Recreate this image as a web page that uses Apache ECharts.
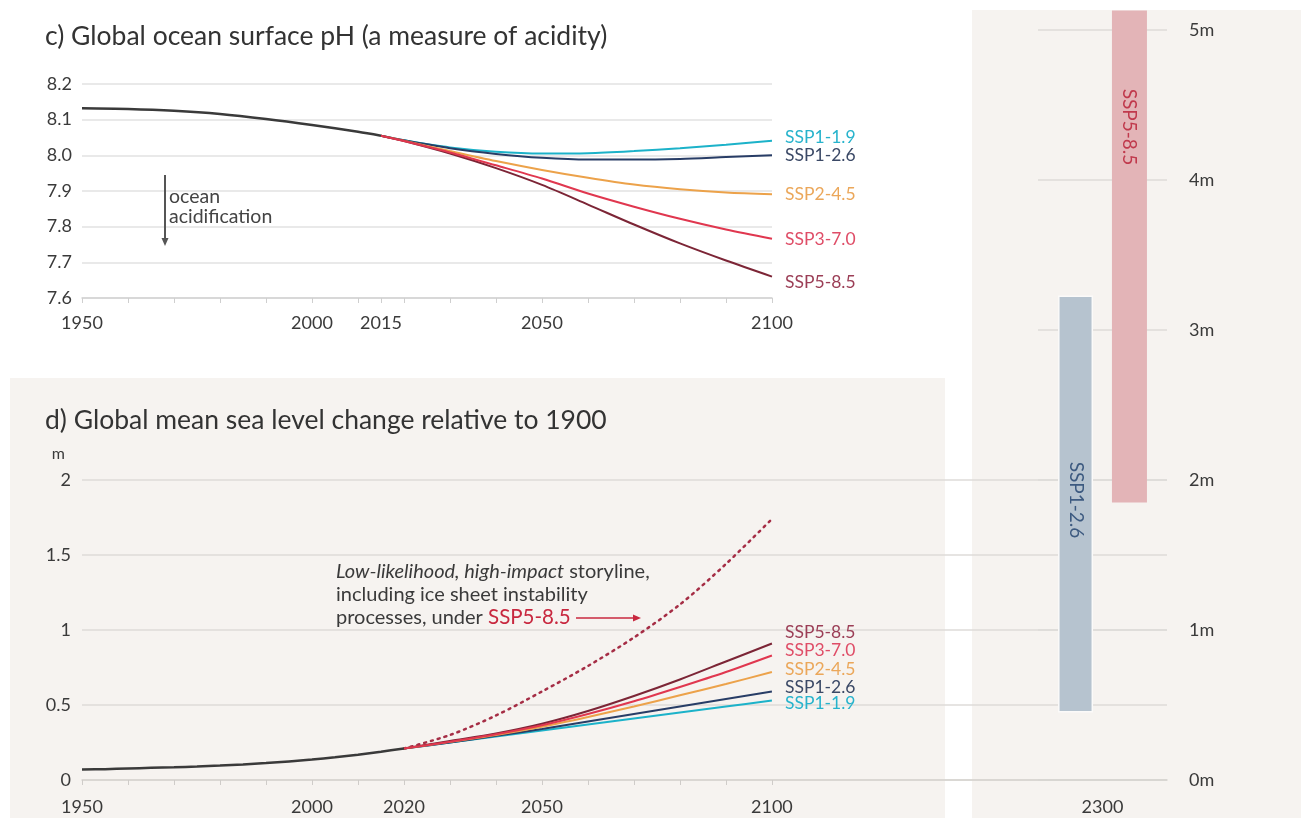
<!DOCTYPE html>
<html>
<head>
<meta charset="utf-8">
<script src="https://cdn.jsdelivr.net/npm/echarts@6/dist/echarts.min.js"></script>
<style>
html,body{margin:0;padding:0;background:#ffffff;}
#chart{width:1301px;height:818px;}
</style>
</head>
<body>
<div id="chart"></div>
<script>
// ---- c) ocean surface pH ----
const phHistYears = [1950, 1960, 1970, 1980, 1990, 2000, 2010, 2015];
const phHist      = [8.132, 8.130, 8.125, 8.116, 8.102, 8.085, 8.066, 8.055];
const phProjYears = [2015, 2020, 2030, 2040, 2050, 2060, 2070, 2080, 2090, 2100];
const phSSP119 = [8.055, 8.042, 8.022, 8.010, 8.005, 8.006, 8.012, 8.020, 8.030, 8.041];
const phSSP126 = [8.055, 8.042, 8.020, 8.004, 7.993, 7.988, 7.988, 7.990, 7.995, 8.000];
const phSSP245 = [8.055, 8.041, 8.012, 7.984, 7.959, 7.937, 7.918, 7.905, 7.896, 7.891];
const phSSP370 = [8.055, 8.040, 8.008, 7.972, 7.935, 7.893, 7.856, 7.822, 7.792, 7.766];
const phSSP585 = [8.055, 8.040, 8.005, 7.964, 7.917, 7.862, 7.806, 7.753, 7.705, 7.660];
const phSSP370Low  = [8.055, 8.036, 8.000, 7.962, 7.923, 7.880, 7.843, 7.808, 7.778, 7.752];
const phSSP370High = [8.055, 8.044, 8.016, 7.982, 7.947, 7.906, 7.869, 7.836, 7.806, 7.780];
const phTickYears  = [1950, 1960, 1970, 1980, 1990, 2000, 2010, 2015, 2020, 2030, 2040, 2050, 2060, 2070, 2080, 2090, 2100];
const phLabelYears = [1950, 2000, 2015, 2050, 2100];

// ---- d) global mean sea level change relative to 1900 (m) ----
const slHistYears = [1950, 1955, 1960, 1965, 1970, 1975, 1980, 1985, 1990, 1995, 2000, 2005, 2010, 2015, 2020];
const slHist      = [0.070, 0.072, 0.077, 0.081, 0.085, 0.090, 0.096, 0.104, 0.113, 0.124, 0.136, 0.151, 0.169, 0.189, 0.210];
const slProjYears = [2020, 2030, 2040, 2050, 2060, 2070, 2080, 2090, 2100];
const slSSP119 = [0.21, 0.250, 0.290, 0.330, 0.370, 0.410, 0.450, 0.490, 0.530];
const slSSP126 = [0.21, 0.250, 0.295, 0.340, 0.390, 0.440, 0.490, 0.540, 0.590];
const slSSP245 = [0.21, 0.255, 0.300, 0.355, 0.420, 0.490, 0.565, 0.640, 0.720];
const slSSP370 = [0.21, 0.255, 0.305, 0.365, 0.440, 0.525, 0.620, 0.720, 0.830];
const slSSP585 = [0.21, 0.260, 0.310, 0.375, 0.460, 0.560, 0.670, 0.790, 0.910];
const slSSP585Low  = [0.21, 0.245, 0.290, 0.345, 0.415, 0.495, 0.585, 0.680, 0.780];
const slSSP585High = [0.21, 0.275, 0.330, 0.405, 0.500, 0.615, 0.740, 0.870, 1.000];
const slSSP126Low  = [0.21, 0.240, 0.275, 0.315, 0.355, 0.395, 0.435, 0.475, 0.515];
const slSSP126High = [0.21, 0.260, 0.310, 0.365, 0.425, 0.485, 0.545, 0.605, 0.665];
const slStoryYears = [2020, 2030, 2040, 2050, 2060, 2070, 2080, 2090, 2100];
const slStory      = [0.21, 0.30, 0.43, 0.59, 0.76, 0.95, 1.17, 1.44, 1.74];
const slTickYears  = [1950, 1960, 1970, 1980, 1990, 2000, 2010, 2020, 2030, 2040, 2050, 2060, 2070, 2080, 2090, 2100];
const slLabelYears = [1950, 2000, 2020, 2050, 2100];

// ---- 2300 likely ranges (m) ----
const sl2300Category  = ['2300'];
const sl2300Scenarios = ['SSP1-2.6', 'SSP5-8.5'];
const sl2300Low  = [0.45, 1.85];
const sl2300High = [3.23, 5.13];

const FONT = 'Lato, "Open Sans", sans-serif';
const TXT = '#3a3a3a';
const GRIDLINE = '#dedbd8';
const AX = 18;   // axis label size
const C = {
  'SSP1-1.9': {line: '#1cb2c9', label: '#27b3cc'},
  'SSP1-2.6': {line: '#283d66', label: '#3b4966'},
  'SSP2-4.5': {line: '#eca24a', label: '#eba75a'},
  'SSP3-7.0': {line: '#e0374f', label: '#df4d67'},
  'SSP5-8.5': {line: '#7c2536', label: '#9b3e56'}
};

const zip = (xs, ys) => xs.map((x, i) => [x, ys[i]]);

function scenarioLine(name, years, vals, xi, yi, labelDy, z) {
  return {
    type: 'line', name: name, xAxisIndex: xi, yAxisIndex: yi,
    data: zip(years, vals), showSymbol: false, smooth: 0.3, z: z || 3,
    lineStyle: {color: C[name].line, width: 2},
    itemStyle: {color: C[name].line},
    endLabel: {
      show: true, formatter: name, color: C[name].label,
      fontFamily: FONT, fontSize: 17.5, distance: 13, offset: [0, labelDy]
    },
    emphasis: {disabled: true}, silent: true, animation: false
  };
}

function band(id, years, lo, hi, xi, yi, color) {
  return [
    {
      type: 'line', name: id + '-lo', stack: id, xAxisIndex: xi, yAxisIndex: yi,
      data: zip(years, lo), showSymbol: false, smooth: 0.3,
      lineStyle: {opacity: 0}, silent: true, animation: false, z: 1
    },
    {
      type: 'line', name: id + '-hi', stack: id, xAxisIndex: xi, yAxisIndex: yi,
      data: years.map((y, i) => [y, hi[i] - lo[i]]), showSymbol: false, smooth: 0.3,
      lineStyle: {opacity: 0}, areaStyle: {color: color}, silent: true, animation: false, z: 1
    }
  ];
}

const chart = echarts.init(document.getElementById('chart'), null, {renderer: 'canvas'});

const option = {
  backgroundColor: '#ffffff',
  animation: false,
  textStyle: {fontFamily: FONT},
  title: [
    {text: 'c) Global ocean surface pH (a measure of acidity)', left: 40, top: 18,
     textStyle: {fontFamily: FONT, fontSize: 26.5, fontWeight: 'normal', color: '#333'}},
    {text: 'd) Global mean sea level change relative to 1900', left: 40, top: 402,
     textStyle: {fontFamily: FONT, fontSize: 26.5, fontWeight: 'normal', color: '#333'}}
  ],
  graphic: [
    {type: 'rect', z: -100, silent: true, shape: {x: 10, y: 378, width: 935, height: 440}, style: {fill: '#f6f3f0'}},
    {type: 'rect', z: -100, silent: true, shape: {x: 972, y: 10, width: 329, height: 808}, style: {fill: '#f6f3f0'}},
    // ocean acidification marker
    {type: 'line', z: 50, silent: true, shape: {x1: 165, y1: 175, x2: 165, y2: 240}, style: {stroke: '#555', lineWidth: 2}},
    {type: 'polygon', z: 50, silent: true, shape: {points: [[165, 246], [161.5, 238], [168.5, 238]]}, style: {fill: '#555'}},
    {type: 'text', z: 50, silent: true, x: 169, y: 187,
     style: {text: 'ocean\nacidification', fill: '#444', font: '19.5px ' + FONT, lineHeight: 20}},
    // storyline note
    {type: 'text', z: 50, silent: true, x: 336, y: 560,
     style: {
       text: '{i|Low-likelihood, high-impact} {n|storyline,}\n{n|including ice sheet instability}\n{n|processes, under }{r|SSP5-8.5}',
       fill: '#3a3a3a', font: '20px ' + FONT, lineHeight: 23,
       rich: {
         i: {fontStyle: 'italic', fontSize: 20, fontFamily: FONT, fill: '#3a3a3a', lineHeight: 23},
         n: {fontSize: 20, fontFamily: FONT, fill: '#3a3a3a', lineHeight: 23},
         r: {fontSize: 20.5, fontFamily: FONT, fill: '#c8283f', lineHeight: 23}
       }
     }},
    {type: 'line', z: 50, silent: true, shape: {x1: 576, y1: 618, x2: 634, y2: 618}, style: {stroke: '#c8283f', lineWidth: 1.5}},
    {type: 'polygon', z: 50, silent: true, shape: {points: [[641, 618], [633, 614.5], [633, 621.5]]}, style: {fill: '#c8283f'}},
    // 2300 bar names
    {type: 'text', z: 50, silent: true, x: 1129, y: 127, rotation: -Math.PI / 2,
     style: {text: 'SSP5-8.5', fill: '#c0394c', font: '19px ' + FONT, align: 'center', verticalAlign: 'middle'}},
    {type: 'text', z: 50, silent: true, x: 1076, y: 500, rotation: -Math.PI / 2,
     style: {text: 'SSP1-2.6', fill: '#3d5a80', font: '19px ' + FONT, align: 'center', verticalAlign: 'middle'}}
  ],
  grid: [
    {left: 82, right: 529, top: 84, bottom: 520, containLabel: false},
    {left: 82, right: 134, top: 480, bottom: 38, containLabel: false},
    {left: 1038, right: 134, top: 10, bottom: 38, containLabel: false}
  ],
  xAxis: [
    {
      type: 'value', gridIndex: 0, min: 1950, max: 2100,
      splitLine: {show: false},
      axisLine: {show: true, lineStyle: {color: '#d2d2d2', width: 1.5}},
      axisTick: {show: true, customValues: phTickYears, length: 5, lineStyle: {color: '#cfcfcf'}},
      axisLabel: {customValues: phLabelYears, color: TXT, fontFamily: FONT, fontSize: AX, margin: 16,
                  formatter: v => String(v)}
    },
    {
      type: 'value', gridIndex: 1, min: 1950, max: 2185.9,
      splitLine: {show: false},
      axisLine: {show: true, lineStyle: {color: '#d6d3d0', width: 1.5}},
      axisTick: {show: true, customValues: slTickYears, length: 5, lineStyle: {color: '#cfccc9'}},
      axisLabel: {customValues: slLabelYears, color: TXT, fontFamily: FONT, fontSize: AX, margin: 18,
                  formatter: v => String(v)}
    },
    {
      type: 'category', gridIndex: 2, data: sl2300Category,
      axisLine: {show: false}, axisTick: {show: false}, splitLine: {show: false},
      axisLabel: {color: TXT, fontFamily: FONT, fontSize: AX, margin: 18}
    }
  ],
  yAxis: [
    {
      type: 'value', gridIndex: 0, min: 7.6, max: 8.2, interval: 0.1,
      axisLine: {show: false}, axisTick: {show: false},
      splitLine: {show: true, lineStyle: {color: '#e2e2e2', width: 1.5}},
      axisLabel: {color: TXT, fontFamily: FONT, fontSize: AX, margin: 10,
                  formatter: v => v.toFixed(1)}
    },
    {
      type: 'value', gridIndex: 1, min: 0, max: 2, interval: 0.5,
      name: 'm', nameLocation: 'end', nameGap: 18,
      nameTextStyle: {color: TXT, fontFamily: FONT, fontSize: 16, align: 'right', padding: [0, 17, 0, 0]},
      axisLine: {show: false}, axisTick: {show: false},
      splitLine: {show: true, lineStyle: {color: GRIDLINE, width: 1.5}},
      axisLabel: {color: TXT, fontFamily: FONT, fontSize: AX, margin: 11,
                  formatter: v => String(v)}
    },
    {
      type: 'value', gridIndex: 2, position: 'right', min: 0, max: 5.1333, interval: 1,
      axisLine: {show: false}, axisTick: {show: false},
      splitLine: {show: true, showMaxLine: false, lineStyle: {color: GRIDLINE, width: 1.5}},
      axisLabel: {color: TXT, fontFamily: FONT, fontSize: AX, margin: 22, showMaxLabel: false,
                  formatter: v => (Math.abs(v - Math.round(v)) < 1e-6 ? Math.round(v) + 'm' : '')}
    }
  ],
  series: [
    // pH
    ...band('ph370', phProjYears, phSSP370Low, phSSP370High, 0, 0, 'rgba(236,120,140,0.35)'),
    {
      type: 'line', name: 'pH observed', xAxisIndex: 0, yAxisIndex: 0,
      data: zip(phHistYears, phHist), showSymbol: false, smooth: 0.3, z: 4,
      lineStyle: {color: '#3a3a3a', width: 2.5}, silent: true, animation: false
    },
    scenarioLine('SSP1-1.9', phProjYears, phSSP119, 0, 0, -3, 3),
    scenarioLine('SSP1-2.6', phProjYears, phSSP126, 0, 0, 0, 3),
    scenarioLine('SSP2-4.5', phProjYears, phSSP245, 0, 0, 0, 3),
    scenarioLine('SSP5-8.5', phProjYears, phSSP585, 0, 0, 6, 3),
    scenarioLine('SSP3-7.0', phProjYears, phSSP370, 0, 0, 1, 4),

    // sea level
    ...band('sl126', slProjYears, slSSP126Low, slSSP126High, 1, 1, 'rgba(140,170,205,0.22)'),
    ...band('sl585', slProjYears, slSSP585Low, slSSP585High, 1, 1, 'rgba(238,150,165,0.32)'),
    {
      type: 'line', name: 'sea level observed', xAxisIndex: 1, yAxisIndex: 1,
      data: zip(slHistYears, slHist), showSymbol: false, smooth: 0.3, z: 4,
      lineStyle: {color: '#3a3a3a', width: 2.5}, silent: true, animation: false
    },
    {
      type: 'line', name: 'storyline', xAxisIndex: 1, yAxisIndex: 1,
      data: zip(slStoryYears, slStory), showSymbol: false, smooth: 0.3, z: 3,
      lineStyle: {color: '#a52d45', width: 2.5, type: [2, 5], cap: 'round'}, silent: true, animation: false
    },
    scenarioLine('SSP1-1.9', slProjYears, slSSP119, 1, 1, 3, 3),
    scenarioLine('SSP1-2.6', slProjYears, slSSP126, 1, 1, -4, 3),
    scenarioLine('SSP2-4.5', slProjYears, slSSP245, 1, 1, -3, 3),
    scenarioLine('SSP5-8.5', slProjYears, slSSP585, 1, 1, -11, 3),
    scenarioLine('SSP3-7.0', slProjYears, slSSP370, 1, 1, -5, 4),

    // 2300 ranges as floating bars
    {type: 'bar', name: 'base-126', stack: 's126', xAxisIndex: 2, yAxisIndex: 2, barWidth: 35, barGap: '54%',
     data: [sl2300Low[0]], itemStyle: {color: 'rgba(0,0,0,0)'}, silent: true},
    {type: 'bar', name: sl2300Scenarios[0], stack: 's126', xAxisIndex: 2, yAxisIndex: 2, barWidth: 35, barGap: '54%',
     data: [sl2300High[0] - sl2300Low[0]], itemStyle: {color: '#b6c3cf', borderColor: '#fbfaf9', borderWidth: 1.5}, silent: true},
    {type: 'bar', name: 'base-585', stack: 's585', xAxisIndex: 2, yAxisIndex: 2, barWidth: 35, barGap: '54%',
     data: [sl2300Low[1]], itemStyle: {color: 'rgba(0,0,0,0)'}, silent: true},
    {type: 'bar', name: sl2300Scenarios[1], stack: 's585', xAxisIndex: 2, yAxisIndex: 2, barWidth: 35, barGap: '54%',
     data: [sl2300High[1] - sl2300Low[1]], itemStyle: {color: '#e3b4b7'}, silent: true}
  ]
};

chart.setOption(option);
</script>
</body>
</html>
